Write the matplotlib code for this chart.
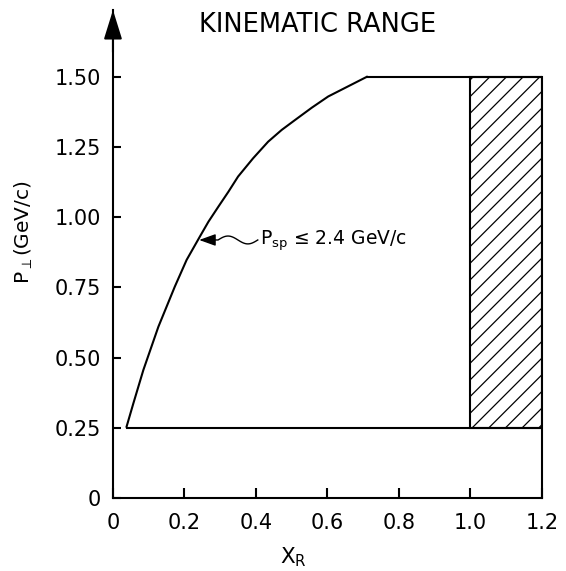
import numpy as np
import matplotlib
matplotlib.use("Agg")
import matplotlib.pyplot as plt
from matplotlib.patches import Rectangle

# ---- data ----
curve_x = [0.038, 0.057, 0.085, 0.127, 0.173, 0.206, 0.243, 0.267, 0.295, 0.323, 0.350,
           0.392, 0.434, 0.472, 0.509, 0.556, 0.602, 0.710]
curve_y = [0.254, 0.337, 0.456, 0.610, 0.753, 0.848, 0.931, 0.984, 1.038, 1.091, 1.145,
           1.210, 1.269, 1.311, 1.346, 1.390, 1.430, 1.500]
pt_min = 0.25          # lower P_perp cut
pt_max = 1.50          # upper P_perp cut
xr_max = 1.2           # right edge of the kinematic range
hatch_x = [1.0, 1.2]   # shaded band in X_R

x_ticks = [0, 0.2, 0.4, 0.6, 0.8, 1.0, 1.2]
x_ticklabels = ["0", "0.2", "0.4", "0.6", "0.8", "1.0", "1.2"]
y_ticks = [0, 0.25, 0.5, 0.75, 1.0, 1.25, 1.5]
y_ticklabels = ["0", "0.25", "0.50", "0.75", "1.00", "1.25", "1.50"]

annot_text = r"P$_\mathregular{sp}$ ≤ 2.4 GeV/c"
annot_tip = (0.241, 0.919)

plt.rcParams['font.family'] = ['DejaVu Sans']
plt.rcParams['hatch.linewidth'] = 0.9

fig = plt.figure(figsize=(5.66, 5.71), dpi=100)
ax = fig.add_axes([0.1996, 0.1278, 0.7580, 0.8547])
LW = 1.5
ymax = 1.738
ax.set_xlim(0, 1.2)
ax.set_ylim(0, ymax)

# boundary curve and box
ax.plot(curve_x, curve_y, color='black', lw=LW, solid_joinstyle='round')
ax.plot([curve_x[-1], xr_max], [pt_max, pt_max], color='black', lw=LW)
ax.plot([curve_x[0], xr_max], [pt_min, pt_min], color='black', lw=LW)
ax.plot([xr_max, xr_max], [0, pt_max], color='black', lw=LW, clip_on=False)
ax.add_patch(Rectangle((hatch_x[0], pt_min), hatch_x[1] - hatch_x[0], pt_max - pt_min,
                       fill=False, hatch='//', lw=LW, edgecolor='black'))

# spines
for s in ['top', 'right']:
    ax.spines[s].set_visible(False)
for s in ['left', 'bottom']:
    ax.spines[s].set_linewidth(LW)
# arrow head on y axis
ax.annotate('', xy=(0, ymax), xytext=(0, ymax - 0.15),
            arrowprops=dict(arrowstyle='-|>,head_length=1.8,head_width=0.56',
                            lw=LW, color='black', shrinkA=0, shrinkB=0,
                            mutation_scale=10),
            annotation_clip=False)

# ticks
ax.set_xticks(x_ticks)
ax.set_xticklabels(x_ticklabels)
ax.set_yticks(y_ticks)
ax.set_yticklabels(y_ticklabels)
ax.tick_params(axis='x', direction='in', length=7, width=LW, pad=11, labelsize=15)
ax.tick_params(axis='y', direction='in', length=6, width=LW, pad=8.5, labelsize=15)

# labels
ax.set_xlabel(r"X$_\mathregular{R}$", fontsize=15.5)
ax.xaxis.set_label_coords(0.42, -0.098)
ax.set_ylabel(r"P$_\perp$(GeV/c)", fontsize=14.5)
ax.yaxis.label.set_va('center')
ax.yaxis.set_label_coords(-0.207, 0.545)
ax.set_title("KINEMATIC RANGE", fontsize=18.5, x=0.477, y=0.955, pad=0)

# annotation with wavy leader
tip_x, tip_y = annot_tip
base_x = tip_x + 0.038
ax.annotate('', xy=(tip_x, tip_y), xytext=(base_x, tip_y),
            arrowprops=dict(arrowstyle='-|>,head_length=1.0,head_width=0.36',
                            lw=1.0, color='black', shrinkA=0, shrinkB=0,
                            mutation_scale=10))
t = np.linspace(0, 1, 60)
wave_x0, wave_x1 = base_x + 0.015, 0.405
wx = np.concatenate([[base_x], wave_x0 + (wave_x1 - wave_x0) * t])
wy = np.concatenate([[tip_y], tip_y + 0.014 * np.sin(2 * np.pi * t)])
ax.plot(wx, wy, color='black', lw=1.0)
ax.text(0.411, 0.901, annot_text, fontsize=13.5, ha='left', va='baseline')

fig.savefig("out.png", dpi=100)
